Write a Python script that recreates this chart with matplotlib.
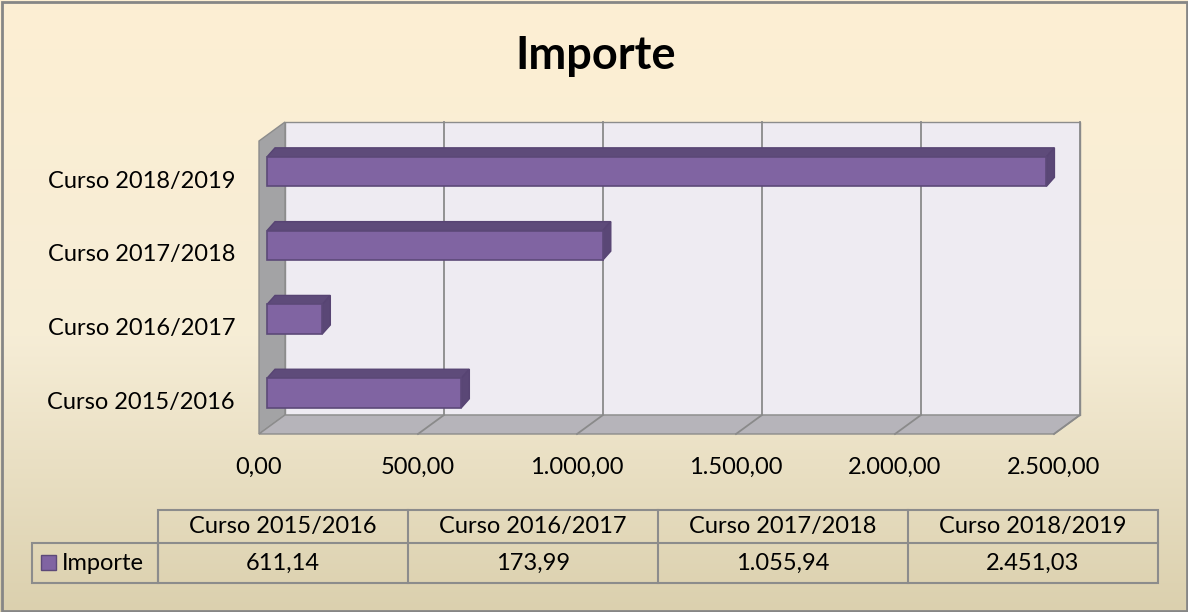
import numpy as np
import matplotlib.pyplot as plt
from matplotlib.patches import Polygon, Rectangle
from matplotlib.colors import LinearSegmentedColormap

categories = ['Curso 2015/2016', 'Curso 2016/2017', 'Curso 2017/2018', 'Curso 2018/2019']
importe = [611.14, 173.99, 1055.94, 2451.03]
value_labels = ['611,14', '173,99', '1.055,94', '2.451,03']
x_ticks = [0, 500, 1000, 1500, 2000, 2500]
x_tick_labels = ['0,00', '500,00', '1.000,00', '1.500,00', '2.000,00', '2.500,00']
series_name = 'Importe'

plt.rcParams['font.family'] = ['Lato', 'DejaVu Sans']

W, H = 1188, 612
fig = plt.figure(figsize=(W / 100, H / 100), dpi=100)

# background, title and data table in pixel coords
bg = fig.add_axes([0, 0, 1, 1])
bg.set_xlim(0, W)
bg.set_ylim(H, 0)
bg.axis('off')
cmap = LinearSegmentedColormap.from_list('bg', [(0, '#FDEFD3'), (0.55, '#F6EDD6'), (1, '#DBD0AE')])
grad = np.linspace(0, 1, 256).reshape(-1, 1)
bg.imshow(grad, cmap=cmap, extent=[0, W, H, 0], aspect='auto', zorder=0)
bg.add_patch(Rectangle((1.5, 1.5), W - 3, H - 3, fill=False, ec='#868686', lw=2, zorder=5))
bg.text(596, 56, 'Importe', ha='center', va='center', fontsize=32.5, fontweight='bold')

# chart axes: x in data units, y in category units
k = 795 / 2500          # px per unit
py_per_cat = 73.8
px0, px1, pyt, pyb = 150, 1110, 100, 450
ax = fig.add_axes([px0 / W, 1 - pyb / H, (px1 - px0) / W, (pyb - pyt) / H])
ax.set_xlim((px0 - 285) / k, (px1 - 285) / k)
ax.set_ylim((393 - pyb) / py_per_cat, (393 - pyt) / py_per_cat)
ax.axis('off')

xmax = x_ticks[-1]
yb = (393 - 415) / py_per_cat
yt = (393 - 122) / py_per_cat
ddx = -26 / k
ddy = -19 / py_per_cat

# back wall, left wall, floor
ax.add_patch(Polygon([(0, yb), (xmax, yb), (xmax, yt), (0, yt)], fc='#EEEBF2', ec='#8C8C8C', lw=1, zorder=1))
ax.add_patch(Polygon([(0, yb), (0, yt), (ddx, yt + ddy), (ddx, yb + ddy)], fc='#A3A3A5', ec='#8C8C8C', lw=1, zorder=2))
ax.add_patch(Polygon([(0, yb), (xmax, yb), (xmax + ddx, yb + ddy), (ddx, yb + ddy)], fc='#B6B4BA', ec='#8C8C8C', lw=1, zorder=2))
for t in x_ticks[1:]:
    ax.plot([t, t], [yb, yt], color='#8A8A8A', lw=1.3, zorder=1.5)
    ax.plot([t, t + ddx], [yb, yb + ddy], color='#8A8A8A', lw=1.3, zorder=2.5)

# bars
fx0 = (267 - 285) / k
bdx = 8 / k
bdy = 9 / py_per_cat
hh = 0.2
for i, v in enumerate(importe):
    x1 = fx0 + v
    ax.add_patch(Polygon([(fx0, i + hh), (x1, i + hh), (x1 + bdx, i + hh + bdy), (fx0 + bdx, i + hh + bdy)],
                         fc='#5E4B7A', ec='#574473', lw=1, zorder=3))
    ax.add_patch(Polygon([(x1, i - hh), (x1, i + hh), (x1 + bdx, i + hh + bdy), (x1 + bdx, i - hh + bdy)],
                         fc='#5A4776', ec='#574473', lw=1, zorder=3))
    ax.add_patch(Rectangle((fx0, i - hh), v, 2 * hh, fc='#8064A2', ec='#5C4978', lw=1.2, zorder=4))
    ax.text((235 - 285) / k, i + ddy / 2, categories[i], ha='right', va='center', fontsize=17)

for t, lab in zip(x_ticks, x_tick_labels):
    ax.text(t + ddx, (393 - 467) / py_per_cat, lab, ha='center', va='center', fontsize=17)

# data table
gc = '#8C8C8C'
col_l = 158
col_w = 250
row_top, row_mid, row_bot = 510, 543, 583
bg.add_patch(Rectangle((col_l, row_top), col_w * len(categories), row_bot - row_top, fill=False, ec=gc, lw=1.5, zorder=3))
bg.plot([col_l, col_l + col_w * len(categories)], [row_mid, row_mid], color=gc, lw=1.5, zorder=3)
bg.add_patch(Rectangle((32, row_mid), col_l - 32, row_bot - row_mid, fill=False, ec=gc, lw=1.5, zorder=3))
for j, (cat, lab) in enumerate(zip(categories, value_labels)):
    if j > 0:
        bg.plot([col_l + col_w * j] * 2, [row_top, row_bot], color=gc, lw=1.5, zorder=3)
    cx = col_l + col_w * j + col_w / 2
    bg.text(cx, (row_top + row_mid) / 2, cat, ha='center', va='center', fontsize=17)
    bg.text(cx, (row_mid + row_bot) / 2, lab, ha='center', va='center', fontsize=17)
bg.add_patch(Rectangle((41, 555), 15, 15, fc='#8064A2', ec='#5C4978', lw=1, zorder=3))
bg.text(62, (row_mid + row_bot) / 2, series_name, ha='left', va='center', fontsize=17)

fig.savefig('out.png', dpi=100)
